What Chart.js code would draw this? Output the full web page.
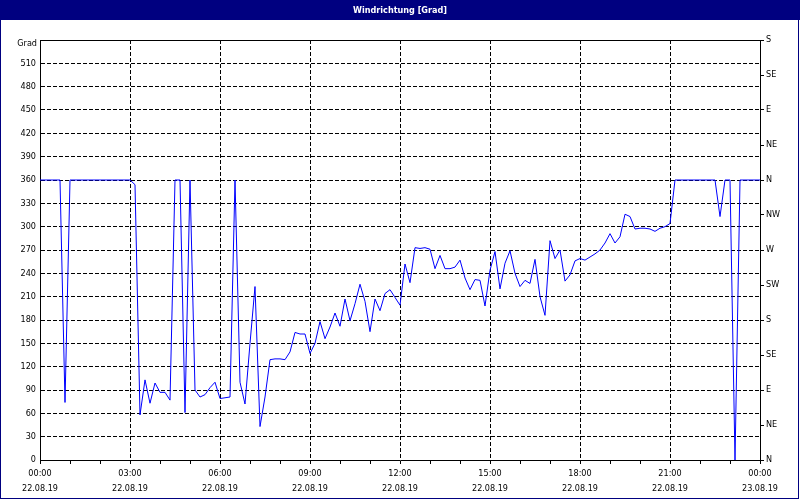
<!DOCTYPE html>
<html>
<head>
<meta charset="utf-8">
<script src="https://cdn.jsdelivr.net/npm/chart.js@4/dist/chart.umd.min.js"></script>
<style>
  html, body { margin: 0; padding: 0; background: #fff; }
  #wrap { width: 800px; height: 500px; }
</style>
</head>
<body>
<div id="wrap"><canvas id="wind" width="800" height="500"></canvas></div>
<script>
// wind direction, one reading every 10 minutes, 22.08.19 00:00 .. 23.08.19 00:00
const stepMinutes = 10
const windDir = [
    360, 360, 360, 360, 360, 74, 360, 360, 360, 360,
    360, 360, 360, 360, 360, 360, 360, 360, 360, 354,
    58, 103, 73, 99, 87, 87, 77, 360, 360, 61,
    360, 90, 81, 84, 93, 100, 79, 80, 81, 360,
    100, 72, 150, 223, 43, 81, 129, 130, 130, 129,
    139, 164, 162, 162, 137, 150, 178, 156, 171, 189,
    172, 207, 179, 201, 226, 204, 165, 207, 192, 214,
    219, 209, 199, 252, 228, 273, 272, 273, 271, 246,
    263, 246, 246, 248, 257, 234, 219, 232, 231, 198,
    244, 268, 220, 253, 269, 240, 223, 231, 227, 258,
    210, 186, 282, 259, 270, 230, 238, 256, 259, 257,
    261, 265, 270, 279, 291, 279, 287, 316, 313, 297,
    298, 298, 297, 294, 298, 300, 304, 360, 360, 360,
    360, 360, 360, 360, 360, 360, 313, 360, 360, 0,
    360, 360, 360, 360, 360
]

// x tick labels every 3 hours (minutes since 22.08.19 00:00)
const timeTicks = [0, 180, 360, 540, 720, 900, 1080, 1260, 1440]
const timeLabels = ["00:00", "03:00", "06:00", "09:00", "12:00", "15:00", "18:00", "21:00", "00:00"]
const dateLabels = ["22.08.19", "22.08.19", "22.08.19", "22.08.19", "22.08.19", "22.08.19", "22.08.19", "22.08.19", "23.08.19"]

// right axis compass labels, every 45 degrees from 0 to 540
const compass = ["N", "NE", "E", "SE", "S", "SW", "W", "NW", "N", "NE", "E", "SE", "S"]

const fontFamily = '"DejaVu Sans Condensed", "Liberation Sans", sans-serif'
const tickFont = { family: fontFamily, size: 9 }

const frame = {
    id: "frame",
    beforeDraw(chart) {
        const { ctx, width, height } = chart
        ctx.save()
        ctx.fillStyle = "#ffffff"
        ctx.fillRect(0, 0, width, height)
        ctx.fillStyle = "#000080"
        ctx.fillRect(0, 0, width, 20)
        ctx.restore()
    },
    afterDraw(chart) {
        const { ctx, scales } = chart
        ctx.save()
        ctx.strokeStyle = "#000080"
        ctx.lineWidth = 1
        ctx.strokeRect(0.5, 0.5, 798, 498)
        // unit label at the top of the left axis
        ctx.fillStyle = "#000"
        ctx.font = "9px " + fontFamily
        ctx.textAlign = "right"
        ctx.textBaseline = "middle"
        ctx.fillText("Grad", scales.y.left + scales.y.width - 3, scales.y.getPixelForValue(540) + 4)
        ctx.restore()
    }
}

new Chart(document.getElementById("wind"), {
    type: "line",
    data: {
        datasets: [{
            label: "Windrichtung",
            data: windDir.map((v, i) => ({ x: i * stepMinutes, y: v })),
            borderColor: "#0000ff",
            borderWidth: 1,
            pointRadius: 0,
            tension: 0,
            fill: false,
            xAxisID: "x",
            yAxisID: "y"
        }]
    },
    options: {
        responsive: false,
        animation: false,
        events: [],
        layout: { padding: 0 },
        plugins: {
            legend: { display: false },
            tooltip: { enabled: false },
            title: {
                display: true,
                text: "Windrichtung [Grad]",
                color: "#ffffff",
                font: { family: fontFamily, size: 9, weight: "bold", lineHeight: 1.2 },
                padding: { top: 5, bottom: 4.2 }
            }
        },
        scales: {
            x: {
                type: "linear",
                position: "bottom",
                min: 0,
                max: 1440,
                afterFit(scale) { scale.height = 40 },
                ticks: {
                    stepSize: 60,
                    autoSkip: false,
                    maxRotation: 0,
                    minRotation: 0,
                    padding: 2,
                    color: "#000",
                    font: { family: fontFamily, size: 9, lineHeight: 15 / 9 },
                    callback(value) {
                        const k = timeTicks.indexOf(value)
                        return k < 0 ? "" : [timeLabels[k], dateLabels[k]]
                    }
                },
                grid: {
                    color: c => (c.tick && c.tick.value % 180 === 0) ? "#000" : "rgba(0,0,0,0)",
                    tickColor: "#000",
                    tickLength: 4,
                    tickBorderDash: [],
                    lineWidth: 1
                },
                border: { display: true, color: "#000", width: 1, dash: [4, 2] }
            },
            x2: {
                type: "linear",
                position: "top",
                min: 0,
                max: 1440,
                afterFit(scale) { scale.height = 20 },
                ticks: { display: false },
                grid: { drawOnChartArea: false, drawTicks: false },
                border: { display: true, color: "#000", width: 1 }
            },
            y: {
                type: "linear",
                position: "left",
                min: 0,
                max: 540,
                afterFit(scale) { scale.width = 40 },
                ticks: {
                    stepSize: 30,
                    padding: 4,
                    color: "#000",
                    font: tickFont,
                    callback: value => value === 540 ? "" : value
                },
                grid: { color: "#000", lineWidth: 1, drawTicks: false },
                border: { display: true, color: "#000", width: 1, dash: [4, 2] }
            },
            y2: {
                type: "linear",
                position: "right",
                min: 0,
                max: 540,
                afterFit(scale) { scale.width = 40 },
                ticks: {
                    stepSize: 45,
                    padding: 2,
                    color: "#000",
                    font: tickFont,
                    callback: value => compass[Math.round(value / 45)]
                },
                grid: { drawOnChartArea: false, tickColor: "#000", tickLength: 4, tickBorderDash: [] },
                border: { display: true, color: "#000", width: 1 }
            }
        }
    },
    plugins: [frame]
})
</script>
</body>
</html>
